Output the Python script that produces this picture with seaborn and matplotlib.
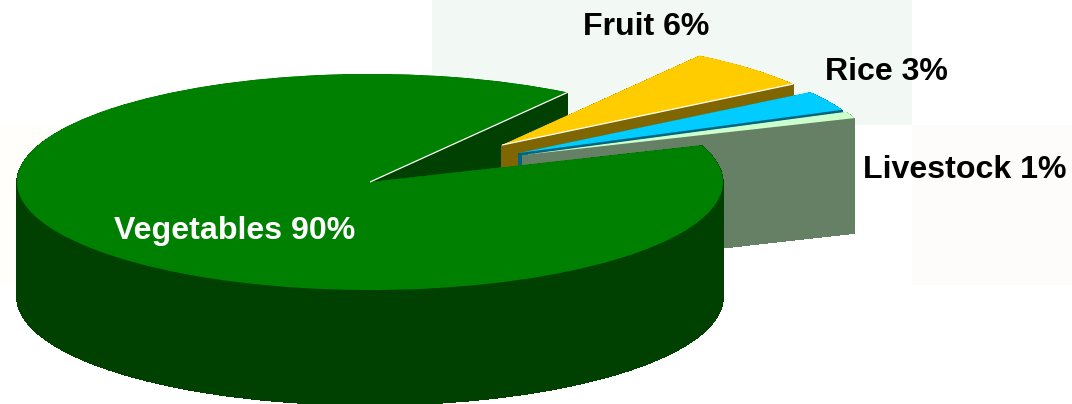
import numpy as np
import matplotlib
matplotlib.use("Agg")
import matplotlib.pyplot as plt
from matplotlib.patches import Rectangle
import seaborn as sns

# ---- data ----
categories = ["Vegetables", "Livestock", "Rice", "Fruit"]
shares = [90, 1, 3, 6]
top_colors = ["#008000", "#CCFFCC", "#00CCFF", "#FFCC00"]
wall_colors = ["#004000", "#668066", "#006680", "#806600"]
# slice offset from the pie centre, in pixels (right, down)
offsets = [(0, 0), (153, -27), (149, -29), (132, -37)]
label_pos = [(235, 231), (965, 170), (886, 72), (646, 27)]
label_colors = ["white", "black", "black", "black"]

W, H = 1072, 404
CX, CY, RX, RY = 370, 182, 353, 108
DEPTH = 115
START = 56

sns.set_theme(style="white")
plt.rcParams["font.family"] = ["Liberation Sans", "DejaVu Sans"]

fig = plt.figure(figsize=(W / 100, H / 100), dpi=100)
ax = fig.add_axes([0, 0, 1, 1])


def ux(p):
    return (p - CX) / RX


def uy(p):
    return (CY - p) / RY


def wedge(frac, start, dx, dy, drop, color, smooth=True):
    ax.pie([frac], normalize=False, startangle=start, radius=1,
           center=(dx / RX, -(dy + drop) / RY), colors=[color],
           wedgeprops={"linewidth": 0.4 if not smooth else 0,
                       "edgecolor": color, "antialiased": smooth})


def extrude(frac, start, dx, dy, wall, top):
    for drop in range(DEPTH, 0, -1):
        wedge(frac, start, dx, dy, drop, wall, smooth=False)
    wedge(frac, start, dx, dy, 0, top)


# pale backdrop panels
for (x0, y0, x1, y1, c) in [(432, 0, 912, 125, "#F2F9F4"),
                            (912, 125, 1072, 285, "#FEFCFA"),
                            (0, 125, 432, 285, "#FFFEFA")]:
    ax.add_patch(Rectangle((ux(x0), uy(y1)), (x1 - x0) / RX, (y1 - y0) / RY,
                           facecolor=c, edgecolor="none", zorder=0))

fracs = [s / sum(shares) for s in shares]
starts = []
a = START
for f in fracs:
    starts.append(a)
    a += 360 * f

# full vegetables block first (its cut wall sits behind the small slices)
extrude(fracs[0], starts[0], 0, 0, wall_colors[0], top_colors[0])

# exploded slices, back to front
for i in [3, 2, 1]:
    extrude(fracs[i], starts[i], offsets[i][0], offsets[i][1], wall_colors[i], top_colors[i])

# front rim and top of vegetables again, in front of the exploded slices
front_start = 180
front_frac = (starts[0] + 360 * fracs[0] - front_start) / 360
for drop in range(DEPTH, 0, -1):
    wedge(front_frac, front_start, 0, 0, drop, wall_colors[0], smooth=False)
wedge(fracs[0], starts[0], 0, 0, 0, top_colors[0])

# thin white highlights along the cut edges
def radial(angle, dx, dy):
    t = np.deg2rad(angle)
    ax.plot([dx / RX, dx / RX + np.cos(t)], [-dy / RY, -dy / RY + np.sin(t)],
            color="white", lw=0.9, solid_capstyle="butt", zorder=5)


radial(starts[0], 0, 0)
radial(starts[3], offsets[3][0], offsets[3][1])

for name, share, (px, py), c in zip(categories, shares, label_pos, label_colors):
    ax.text(ux(px), uy(py), f"{name} {share}%", color=c, fontsize=23.1,
            fontweight="bold", ha="center", va="center", zorder=10)

ax.set_aspect("auto")
ax.set_xlim(ux(0), ux(W))
ax.set_ylim(uy(H), uy(0))
ax.axis("off")
fig.savefig("out.png", dpi=100, facecolor="white")
